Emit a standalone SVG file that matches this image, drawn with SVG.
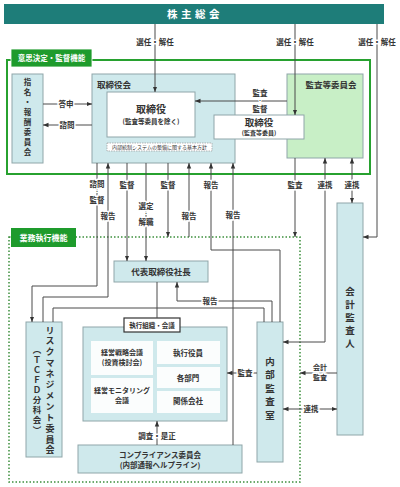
<svg xmlns="http://www.w3.org/2000/svg" width="400" height="487" viewBox="0 0 400 487">
<defs>
<style>
text{font-family:"Noto Sans CJK JP","Noto Sans CJK SC",sans-serif;font-weight:700;fill:#333;text-anchor:middle}
.box{fill:#cfe9ec;stroke:#8fa6a9;stroke-width:1}
.wbox{fill:#fff;stroke:#8fa6a9;stroke-width:1}
.ibox{fill:#fbfdfd;stroke:none}
.ln{fill:none;stroke:#4a4a4a;stroke-width:1}
.arr{marker-end:url(#ah)}
.arr2{marker-start:url(#ah);marker-end:url(#ah)}
.lbl{font-size:7.5px;stroke:#fff;stroke-width:3;stroke-linejoin:round;paint-order:stroke}
.dot{font-size:4px;stroke:#fff;stroke-width:2;stroke-linejoin:round;paint-order:stroke}
.vt{writing-mode:vertical-rl}
.t7{font-size:7.5px}
.t6{font-size:7px}
</style>
<marker id="ah" viewBox="0 0 10 10" refX="10" refY="5" markerWidth="5.5" markerHeight="5.5" markerUnits="userSpaceOnUse" orient="auto-start-reverse">
<path d="M0,1 L10,5 L0,9 z" fill="#333"/>
</marker>
</defs>
<rect width="400" height="487" fill="#fff"/>

<g id="shareholders">
<rect x="4" y="4" width="380" height="20" fill="#1e7d79"/>
<text x="195" y="18" style="font-size:10.5px;fill:#fff;letter-spacing:3.5px">株主総会</text>
</g>

<g id="frame-supervision">
<rect x="7" y="60" width="363" height="114" fill="none" stroke="#27a12f" stroke-width="2"/>
<rect x="11" y="49" width="81" height="18" fill="#1e9b2c" stroke="#fff" stroke-width="0.8"/>
<text x="51.5" y="61" style="font-size:7.5px;fill:#fff">意思決定・監督機能</text>
</g>

<g id="nomination">
<rect class="box" x="12" y="74" width="31" height="89"/>
<text class="vt" x="27.5" y="118" style="font-size:7.5px;letter-spacing:2.5px">指名・報酬委員会</text>
</g>

<g id="board">
<rect class="box" x="92" y="74" width="143" height="89"/>
<text x="97" y="88" style="font-size:8.5px;text-anchor:start">取締役会</text>
</g>

<g id="directors">
<rect class="wbox" x="107" y="92" width="88" height="45"/>
<text x="151" y="113" style="font-size:10px">取締役</text>
<text x="151" y="124" style="font-size:6.5px">(監査等委員を除く)</text>
</g>

<g id="policy">
<rect x="107" y="143" width="105" height="8" fill="#fff" stroke="#999" stroke-width="0.7" stroke-dasharray="1.5 1"/>
<text x="159.5" y="149.3" style="font-size:5px;font-weight:400">内部統制システムの整備に関する基本方針</text>
</g>

<g id="audit-committee">
<rect x="287" y="74" width="76" height="84" fill="#c8efc6" stroke="#8fa6a9"/>
<text x="331" y="88" style="font-size:8.5px">監査等委員会</text>
</g>

<g id="audit-directors">
<rect class="wbox" x="214" y="115" width="90" height="24"/>
<text x="259" y="126" style="font-size:9.5px">取締役</text>
<text x="259" y="135" style="font-size:6px">(監査等委員)</text>
</g>

<g id="frame-execution">
<rect x="9" y="237" width="291" height="245" fill="none" stroke="#3c8f3c" stroke-width="1.5" stroke-dasharray="1.5 2"/>
<rect x="11" y="228" width="65" height="19" fill="#1e9b2c"/>
<text x="43.5" y="240.5" style="font-size:8px;fill:#fff">業務執行機能</text>
</g>

<g id="president">
<rect class="box" x="114" y="261" width="94" height="21"/>
<text x="161" y="275" style="font-size:8.5px">代表取締役社長</text>
</g>

<g id="risk">
<rect class="box" x="26" y="322" width="36" height="135"/>
<text class="vt" x="50" y="391" style="font-size:9px;letter-spacing:1.9px">リスクマネジメント委員会</text>
<text class="vt" x="37" y="391" style="font-size:8.5px;letter-spacing:1.5px">（ＴＣＦＤ分科会）</text>
</g>

<g id="internal-audit">
<rect class="box" x="257" y="322" width="26" height="140"/>
<text class="vt" x="270" y="390" style="font-size:9.5px;letter-spacing:4px">内部監査室</text>
</g>

<g id="accounting-auditor">
<rect class="box" x="337" y="203" width="26" height="232"/>
<text class="vt" x="350" y="319" style="font-size:9.5px;letter-spacing:3.5px">会計監査人</text>
</g>

<g id="execution">
<rect class="box" x="83" y="327" width="144" height="94"/>
<rect x="124" y="318" width="56" height="14" fill="#fff" stroke="#333" stroke-width="1.2"/>
<text x="152" y="327.8" style="font-size:6.5px">執行組織・会議</text>
<rect class="ibox" x="91" y="341" width="62" height="34"/>
<text class="t6" x="122" y="355">経営戦略会議<tspan x="122" dy="10.3">(投資検討会)</tspan></text>
<rect class="ibox" x="91" y="378" width="62" height="35"/>
<text class="t6" x="122" y="393">経営モニタリング<tspan x="122" dy="10.3">会議</tspan></text>
<rect class="ibox" x="157" y="341" width="63" height="23"/>
<text class="t7" x="188" y="356">執行役員</text>
<rect class="ibox" x="157" y="367" width="63" height="21"/>
<text class="t7" x="188" y="381">各部門</text>
<rect class="ibox" x="157" y="391" width="63" height="22"/>
<text class="t7" x="188" y="404">関係会社</text>
</g>

<g id="compliance">
<rect class="box" x="78" y="445" width="164" height="28"/>
<text class="t7" x="160" y="458">コンプライアンス委員会<tspan x="160" dy="9.5">(内部通報ヘルプライン)</tspan></text>
</g>

<g id="connectors">
<polyline class="ln arr" points="155,24 155,92"/>
<polyline class="ln arr" points="295,24 295,115"/>
<polyline class="ln arr" points="377,24 377,237 363,237"/>
<polyline class="ln arr" points="43,104 92,104"/>
<polyline class="ln arr" points="92,125 43,125"/>
<polyline class="ln arr" points="287,101 195,101"/>
<polyline class="ln arr" points="97,163 97,286 32,286 32,322"/>
<polyline class="ln arr" points="43,322 43,297 108,297 108,163"/>
<polyline class="ln arr" points="127,163 127,261"/>
<polyline class="ln arr" points="146,163 146,261"/>
<polyline class="ln arr" points="168,163 168,237"/>
<polyline class="ln arr" points="189,237 189,163"/>
<polyline class="ln arr" points="280,322 280,250 211,250 211,163"/>
<polyline class="ln arr" points="233,445 233,163"/>
<polyline class="ln arr" points="295,158 295,237"/>
<polyline class="ln arr2" points="325,158 325,342 283,342"/>
<polyline class="ln arr2" points="352,158 352,203"/>
<polyline class="ln arr" points="272,322 272,301 177,301 177,282"/>
<polyline class="ln" points="53,322 53,308 264,308 264,322"/>
<polyline class="ln" points="157,282 157,318"/>
<polyline class="ln arr" points="257,373 227,373"/>
<polyline class="ln arr" points="337,373 300,373"/>
<polyline class="ln arr2" points="283,409 337,409"/>
<polyline class="ln arr" points="157,445 157,421"/>

<text class="lbl" x="155" y="45">選任・解任</text>
<text class="lbl" x="295" y="45">選任・解任</text>
<text class="lbl" x="377" y="45">選任・解任</text>
<text class="lbl" x="66" y="106.5">答申</text>
<text class="lbl" x="67" y="127.5">諮問</text>
<text class="lbl" x="260" y="95.5">監査</text>
<text class="dot" x="260" y="102.5">・</text>
<text class="lbl" x="260" y="111.5">監督</text>
<text class="lbl" x="97" y="186.5">諮問</text>
<text class="dot" x="97" y="193.5">・</text>
<text class="lbl" x="97" y="202.5">監督</text>
<text class="lbl" x="108" y="218.5">報告</text>
<text class="lbl" x="127" y="187.5">監督</text>
<text class="lbl" x="146" y="209">選定</text>
<text class="dot" x="146" y="216">・</text>
<text class="lbl" x="146" y="225">解職</text>
<text class="lbl" x="168" y="187.5">監督</text>
<text class="lbl" x="189" y="218.5">報告</text>
<text class="lbl" x="211" y="187.5">報告</text>
<text class="lbl" x="233" y="217.5">報告</text>
<text class="lbl" x="295" y="187.5">監査</text>
<text class="lbl" x="325" y="187.5">連携</text>
<text class="lbl" x="352" y="187.5">連携</text>
<text class="lbl" x="210" y="303.5">報告</text>
<text class="lbl" x="245" y="375.5">監査</text>
<text class="lbl" x="320" y="370" style="font-size:7px">会計<tspan x="320" dy="10.3">監査</tspan></text>
<text class="lbl" x="311" y="411.5">連携</text>
<text class="lbl" x="157" y="438.5">調査・是正</text>
</g>
</svg>
